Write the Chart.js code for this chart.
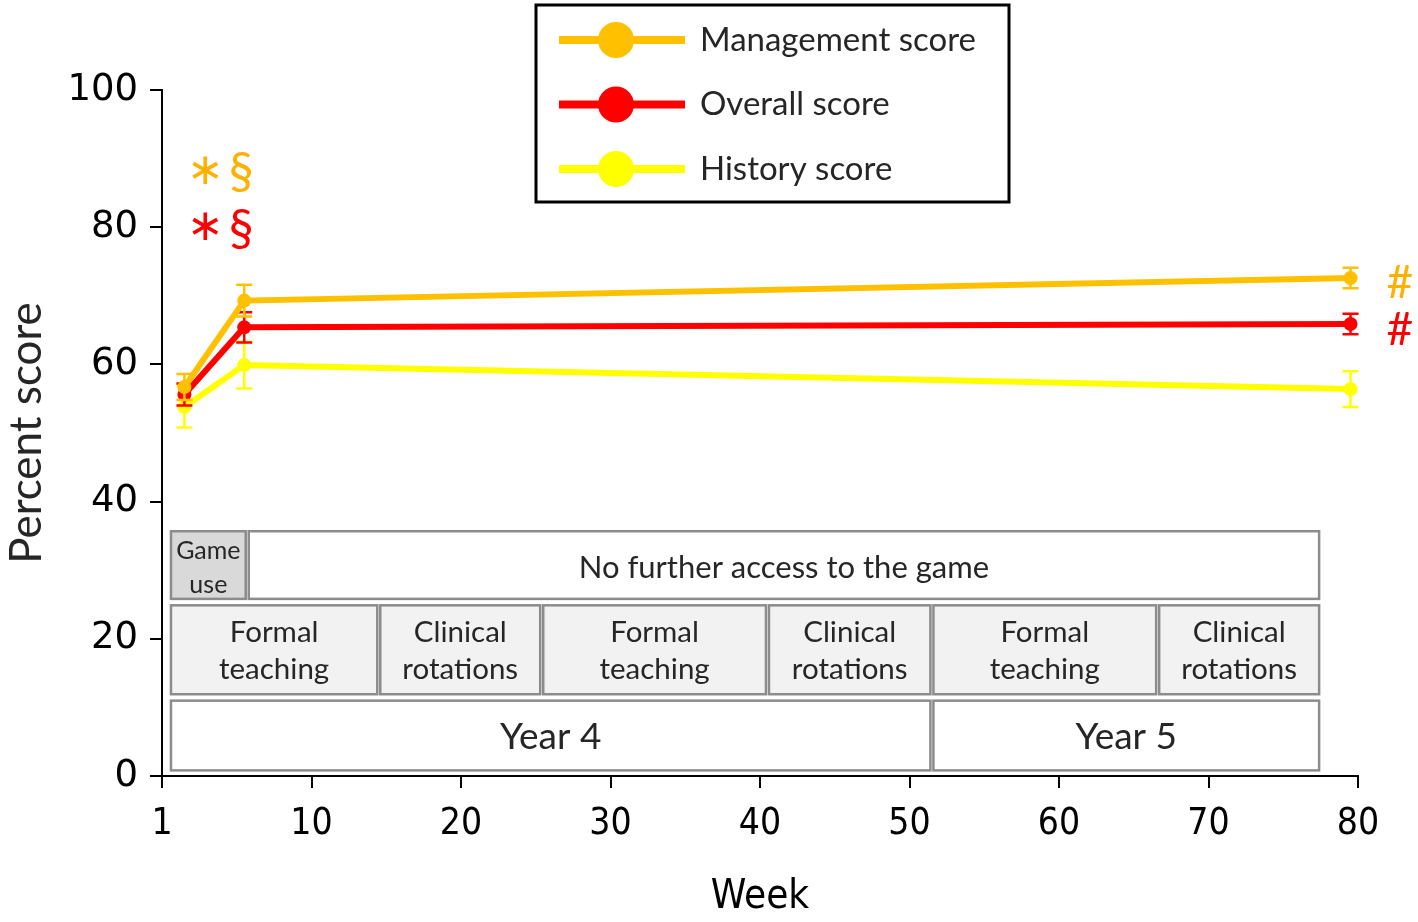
<!DOCTYPE html>
<html>
<head>
<meta charset="utf-8">
<script src="https://cdn.jsdelivr.net/npm/chart.js@4"></script>
<style>
html,body{margin:0;padding:0;background:#fff;}
#wrap{width:1418px;height:922px;}
</style>
</head>
<body>
<div id="wrap"><canvas id="c" width="1418" height="922"></canvas></div>
<script>
// ---- data ----
const weeks = [1.5, 5.5, 79.5];
const managementScore = [56.7, 69.3, 72.6];
const managementErr = [1.9, 2.3, 1.5];
const overallScore = [55.6, 65.4, 65.9];
const overallErr = [1.6, 2.2, 1.5];
const historyScore = [53.8, 59.9, 56.4];
const historyErr = [3.0, 3.4, 2.6];
const seriesLabels = ['Management score', 'Overall score', 'History score'];
const xTickValues = [0, 10, 20, 30, 40, 50, 60, 70, 80];
const xTickLabels = ['1', '10', '20', '30', '40', '50', '60', '70', '80'];
const yTickValues = [0, 20, 40, 60, 80, 100];

// timeline rows: [label, startWeek, endWeek]
const gameRow = [['Game\nuse', 0.5, 5.7], ['No further access to the game', 5.7, 77.5]];
const phaseRow = [['Formal\nteaching', 0.5, 14.5], ['Clinical\nrotations', 14.5, 25.4], ['Formal\nteaching', 25.4, 40.5],
                  ['Clinical\nrotations', 40.5, 51.5], ['Formal\nteaching', 51.5, 66.6], ['Clinical\nrotations', 66.6, 77.5]];
const yearRow = [['Year 4', 0.5, 51.5], ['Year 5', 51.5, 77.5]];
// significance marks: [text, week, value, color]
const marks = [['\u2217', 2.9, 88, '#FFB000'], ['§', 5.3, 88, '#FFB000'],
               ['\u2217', 2.9, 79.8, '#FF0000'], ['§', 5.3, 79.8, '#FF0000'],
               ['#', 82.8, 71.9, '#FFB000'], ['#', 82.8, 65.0, '#FF0000']];

const colors = ['#FFC000', '#FF0000', '#FFFF00'];
const values = [managementScore, overallScore, historyScore];
const errs = [managementErr, overallErr, historyErr];

const datasets = values.map((v, i) => ({
  label: seriesLabels[i],
  data: weeks.map((w, j) => ({x: w, y: v[j]})),
  err: errs[i],
  borderColor: colors[i],
  backgroundColor: colors[i],
  borderWidth: 6,
  pointRadius: 7,
  pointBorderWidth: 0,
  tension: 0
}));

const txtColor = '#262626';
const boxFont = '"Lato", "Open Sans", sans-serif';

const errorBars = {
  id: 'errorBars',
  afterDatasetDraw(chart, args) {
    const ds = chart.data.datasets[args.index];
    const meta = args.meta;
    const y = chart.scales.y;
    const ctx = chart.ctx;
    ctx.save();
    ctx.strokeStyle = ds.borderColor;
    ctx.lineWidth = 2.5;
    meta.data.forEach((pt, j) => {
      const v = ds.data[j].y, e = ds.err[j];
      const yt = y.getPixelForValue(v + e), yb = y.getPixelForValue(v - e);
      ctx.beginPath();
      ctx.moveTo(pt.x, yt); ctx.lineTo(pt.x, yb);
      ctx.moveTo(pt.x - 8, yt); ctx.lineTo(pt.x + 8, yt);
      ctx.moveTo(pt.x - 8, yb); ctx.lineTo(pt.x + 8, yb);
      ctx.stroke();
    });
    ctx.restore();
  }
};

function drawRow(ctx, xs, ys, row, top, bottom, fills, fontSize, lineGap, dy) {
  row.forEach((r, i) => {
    const x0 = xs.getPixelForValue(r[1]) + 1.5, x1 = xs.getPixelForValue(r[2]) - 1.5;
    const y0 = ys.getPixelForValue(top) + 1.5, y1 = ys.getPixelForValue(bottom) - 1.5;
    ctx.fillStyle = fills[i] || fills[0];
    ctx.fillRect(x0, y0, x1 - x0, y1 - y0);
    ctx.strokeStyle = '#8c8c8c';
    ctx.lineWidth = 2.5;
    ctx.strokeRect(x0, y0, x1 - x0, y1 - y0);
    const fs = typeof fontSize === 'function' ? fontSize(i) : fontSize;
    const lh = typeof lineGap === 'function' ? lineGap(i) : lineGap;
    ctx.fillStyle = txtColor;
    ctx.font = fs + 'px ' + boxFont;
    ctx.textAlign = 'center';
    ctx.textBaseline = 'middle';
    const lines = r[0].split('\n');
    const cy = (y0 + y1) / 2 + dy;
    lines.forEach((ln, k) => {
      ctx.fillText(ln, (x0 + x1) / 2, cy + (k - (lines.length - 1) / 2) * lh);
    });
  });
}

const timeline = {
  id: 'timeline',
  beforeDatasetsDraw(chart) {
    const ctx = chart.ctx, xs = chart.scales.x, ys = chart.scales.y;
    ctx.save();
    drawRow(ctx, xs, ys, gameRow, 35.9, 25.6, ['#D9D9D9', '#FFFFFF'], i => i === 0 ? 25 : 31, 34, 3);
    drawRow(ctx, xs, ys, phaseRow, 25.1, 11.7, ['#F2F2F2'], 29.5, 37, 1);
    drawRow(ctx, xs, ys, yearRow, 11.2, 0.6, ['#FFFFFF'], 37, 0, 2);
    ctx.restore();
  },
  afterDraw(chart) {
    const ctx = chart.ctx, xs = chart.scales.x, ys = chart.scales.y;
    ctx.save();
    ctx.textAlign = 'center';
    ctx.textBaseline = 'middle';
    marks.forEach(m => {
      ctx.fillStyle = m[3];
      ctx.font = m[0] === '\u2217' ? '44px "DejaVu Sans", sans-serif' : (m[0] === '#' ? '46px ' + boxFont : '50px ' + boxFont);
      ctx.fillText(m[0], xs.getPixelForValue(m[1]), ys.getPixelForValue(m[2]));
    });
    // legend box
    const lx = 536, ly = 5, lw = 473, lh = 197;
    ctx.fillStyle = '#fff';
    ctx.fillRect(lx, ly, lw, lh);
    ctx.strokeStyle = '#000';
    ctx.lineWidth = 3;
    ctx.strokeRect(lx, ly, lw, lh);
    chart.data.datasets.forEach((ds, i) => {
      const cy = 40 + i * 64.5;
      ctx.strokeStyle = ds.borderColor;
      ctx.lineWidth = 8;
      ctx.beginPath(); ctx.moveTo(559, cy); ctx.lineTo(685, cy); ctx.stroke();
      ctx.fillStyle = ds.borderColor;
      ctx.beginPath(); ctx.arc(616, cy, 18, 0, Math.PI * 2); ctx.fill();
      ctx.fillStyle = txtColor;
      ctx.font = '33px ' + boxFont;
      ctx.textAlign = 'left';
      ctx.fillText(ds.label, 700, cy);
    });
    ctx.restore();
  }
};

new Chart(document.getElementById('c'), {
  type: 'line',
  data: {datasets},
  options: {
    responsive: false,
    animation: false,
    layout: {padding: {top: 90, right: 60, left: 0, bottom: 0}},
    plugins: {legend: {display: false}, tooltip: {enabled: false}},
    scales: {
      x: {
        type: 'linear', min: 0, max: 80,
        afterBuildTicks: s => { s.ticks = xTickValues.map(v => ({value: v})); },
        afterFit: s => { s.height = 146; },
        grid: {display: true, drawOnChartArea: false, drawTicks: true, tickLength: 12, color: '#000', lineWidth: 2},
        border: {display: true, color: '#000', width: 2},
        ticks: {
          autoSkip: false, maxRotation: 0, padding: 14, color: '#000',
          font: {family: '"DejaVu Sans Condensed", "DejaVu Sans", sans-serif', size: 37},
          callback: v => xTickLabels[xTickValues.indexOf(v)]
        },
        title: {display: true, text: 'Week', color: '#000', padding: {top: 0, bottom: 0},
                font: {family: '"DejaVu Sans Condensed", "DejaVu Sans", sans-serif', size: 40}}
      },
      y: {
        type: 'linear', min: 0, max: 100,
        afterBuildTicks: s => { s.ticks = yTickValues.map(v => ({value: v})); },
        afterFit: s => { s.width = 162; },
        grid: {display: true, drawOnChartArea: false, drawTicks: true, tickLength: 12, color: '#000', lineWidth: 2},
        border: {display: true, color: '#000', width: 2},
        ticks: {padding: 12, color: '#000', font: {family: '"DejaVu Sans", sans-serif', size: 37}},
        title: {display: true, text: 'Percent score', color: txtColor, padding: {top: 0, bottom: 0},
                font: {family: boxFont, size: 44}}
      }
    }
  },
  plugins: [timeline, errorBars]
});
</script>
</body>
</html>
